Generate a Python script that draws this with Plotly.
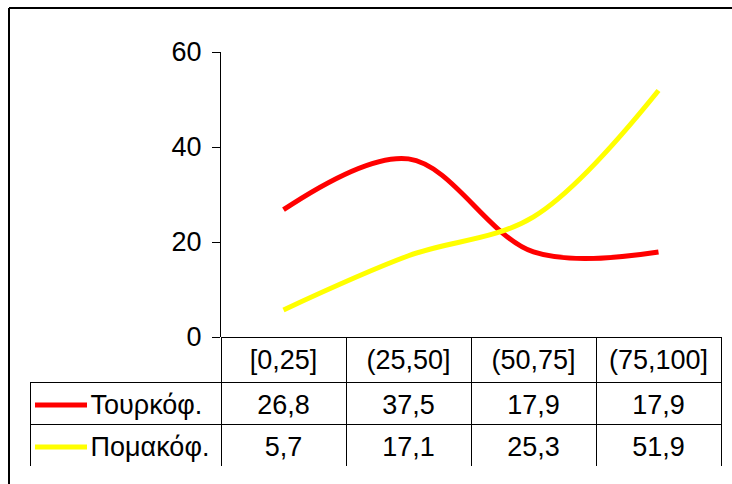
import plotly.graph_objects as go

# Score bands and the share (%) of each speaker group
categories = ["[0,25]", "(25,50]", "(50,75]", "(75,100]"]
series_names = ["Τουρκόφ.", "Πομακόφ."]
turkish = [26.8, 37.5, 17.9, 17.9]
pomak = [5.7, 17.1, 25.3, 51.9]
y_ticks = [0, 20, 40, 60]

colors = ["#FF0000", "#FFFF00"]
FONT = "Liberation Sans, Arial, sans-serif"
CLEAR = "rgba(0,0,0,0)"

W, H = 732, 484
M_L, M_R, M_T, M_B = 30, 11, 52, 14
PW, PH = W - M_L - M_R, H - M_T - M_B


def px_x(x):
    return (x - M_L) / PW


def px_y(y):
    return (H - M_B - y) / PH


fig = go.Figure()

x_idx = list(range(len(categories)))
for name, vals, col in zip(series_names, [turkish, pomak], colors):
    fig.add_trace(go.Scatter(
        x=x_idx, y=vals, mode="lines", name=name,
        line=dict(color=col, width=5, shape="spline", smoothing=1),
        showlegend=False, hoverinfo="skip",
    ))


def fmt(v):
    return f"{v:.1f}".replace(".", ",")


pad = "\u00a0" * 7
col_values = [[pad + n for n in series_names]]
for i in range(len(categories)):
    col_values.append([fmt(turkish[i]), fmt(pomak[i])])

widths = [191, 125, 125, 125, 125]
n_cols = len(categories) + 1

# data table grid: header row for the bands, one row per series
fig.add_trace(go.Table(
    domain=dict(x=[0, 1], y=[px_y(466), px_y(337)]),
    columnwidth=widths,
    header=dict(
        values=[""] * n_cols,
        height=45,
        fill_color=[CLEAR] + ["white"] * 4,
        line=dict(color=[CLEAR] + ["black"] * 4, width=1),
    ),
    cells=dict(
        values=[["", ""]] * n_cols,
        height=42,
        fill_color="white",
        line=dict(color="black", width=1),
    ),
))

# table text, set slightly lower inside the grid cells
fig.add_trace(go.Table(
    domain=dict(x=[0, 1], y=[px_y(470), px_y(341)]),
    columnwidth=widths,
    header=dict(
        values=[""] + categories,
        height=45,
        align="center",
        font=dict(family=FONT, size=27, color="black"),
        fill_color=CLEAR,
        line=dict(color=CLEAR, width=0),
    ),
    cells=dict(
        values=col_values,
        height=42,
        align=["left"] + ["center"] * 4,
        font=dict(family=FONT, size=27, color="black"),
        fill_color=CLEAR,
        line=dict(color=CLEAR, width=0),
    ),
))

# outer chart frame (left and top edges visible)
shapes = [
    dict(type="line", xref="paper", yref="paper",
         x0=px_x(9), x1=px_x(9), y0=px_y(484), y1=px_y(8),
         line=dict(color="black", width=2)),
    dict(type="line", xref="paper", yref="paper",
         x0=px_x(9), x1=px_x(732), y0=px_y(8), y1=px_y(8),
         line=dict(color="black", width=2)),
]
# legend keys inside the row-label column
for ypix, col in zip([405, 447], colors):
    shapes.append(dict(type="line", xref="paper", yref="paper",
                       x0=px_x(35), x1=px_x(87), y0=px_y(ypix), y1=px_y(ypix),
                       line=dict(color=col, width=5)))

fig.update_layout(
    width=W, height=H,
    margin=dict(l=M_L, r=M_R, t=M_T, b=M_B, autoexpand=False),
    paper_bgcolor="white", plot_bgcolor="white",
    showlegend=False,
    shapes=shapes,
    xaxis=dict(
        domain=[px_x(221), 1],
        range=[-0.5, len(categories) - 0.5],
        showticklabels=False, ticks="", showgrid=False, zeroline=False,
        showline=False,
    ),
    yaxis=dict(
        domain=[px_y(337), 1],
        range=[0, 60],
        tickvals=y_ticks,
        ticks="outside", ticklen=8, tickcolor="black", tickwidth=1,
        ticklabelstandoff=5,
        showline=True, linecolor="black", linewidth=1,
        showgrid=False, zeroline=False,
        tickfont=dict(family=FONT, size=27, color="black"),
    ),
)

fig.write_html("out.html")
